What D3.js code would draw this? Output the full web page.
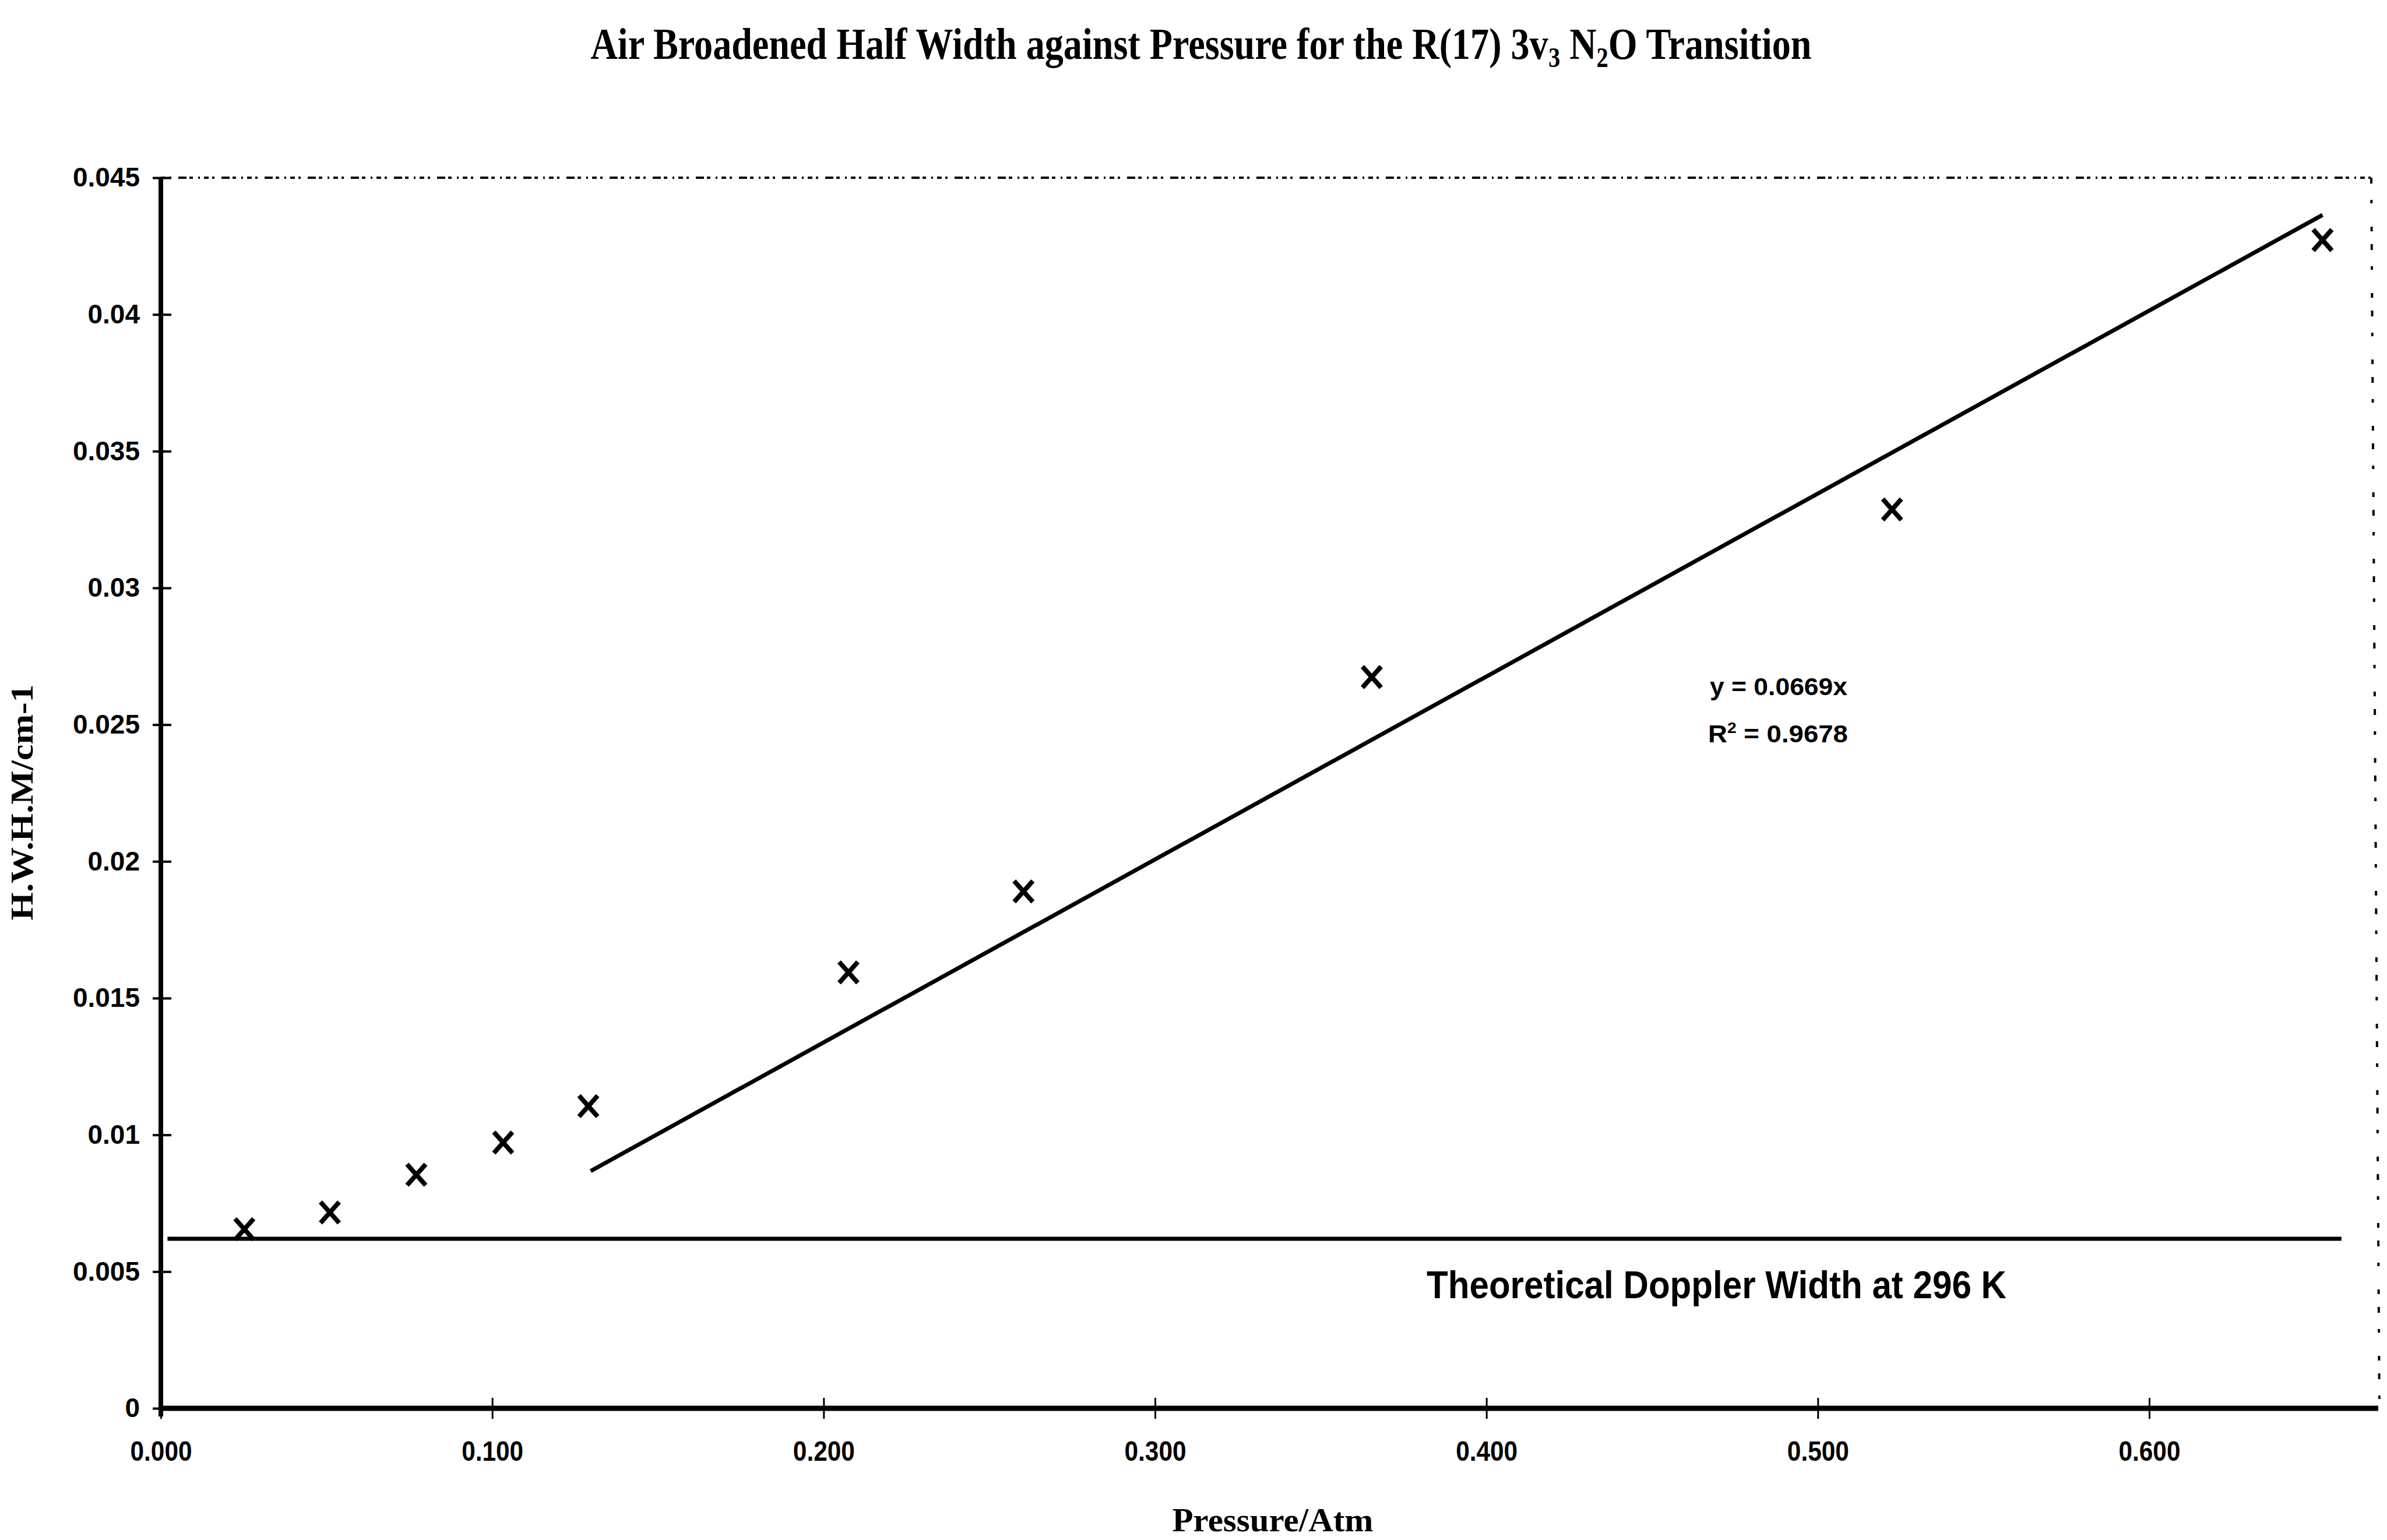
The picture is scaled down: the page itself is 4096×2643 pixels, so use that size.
<!DOCTYPE html>
<html>
<head>
<meta charset="utf-8">
<script src="https://cdn.jsdelivr.net/npm/d3@7"></script>
<style>
  html, body { margin: 0; padding: 0; background: #ffffff; overflow: hidden; }
  svg { display: block; }
  text { white-space: pre; }
</style>
</head>
<body>
<svg id="chart" width="4096" height="2643"></svg>
<script>
// Measured half widths of the R(17) line at each air pressure
const pressure = [0.0252, 0.0510, 0.0771, 0.1033, 0.1290, 0.2075, 0.2603, 0.3654, 0.5224, 0.6523];
const hwhm     = [0.00655, 0.00716, 0.00854, 0.00972, 0.01105, 0.01594, 0.0189, 0.02674, 0.03287, 0.04272];

// Linear fit through the origin over the higher-pressure points
const fitSlope = 0.0669;
const fitRange = [0.1297, 0.6523];
const fitEquation = "y = 0.0669x";
const fitR2 = ["R", "2", " = 0.9678"];

// Theoretical Doppler HWHM at 296 K
const dopplerWidth = 0.0062;
const dopplerRange = [0.002, 0.658];
const dopplerLabel = "Theoretical Doppler Width at 296 K";

// Axis ticks
const xTicks = [0, 0.1, 0.2, 0.3, 0.4, 0.5, 0.6];
const xTickLabels = ["0.000", "0.100", "0.200", "0.300", "0.400", "0.500", "0.600"];
const yTicks = [0, 0.005, 0.01, 0.015, 0.02, 0.025, 0.03, 0.035, 0.04, 0.045];
const yTickLabels = ["0", "0.005", "0.01", "0.015", "0.02", "0.025", "0.03", "0.035", "0.04", "0.045"];

// Titles (pieces flagged true are subscripts)
const titlePieces = [
  ["Air Broadened Half Width against Pressure for the R(17) 3v", false],
  ["3", true],
  [" N", false],
  ["2", true],
  ["O Transition", false]
];
const xTitle = "Pressure/Atm";
const yTitle = "H.W.H.M/cm-1";

// ---- layout ----
const svg = d3.select("#chart");
const plot = { left: 276, right: 4069, top: 305, bottom: 2417 };
const sansBold = "'Liberation Sans', Arial, sans-serif";
const serifBold = "'Liberation Serif', 'Times New Roman', serif";

const x = d3.scaleLinear().domain([0, 0.667]).range([plot.left, plot.right]);
const y = d3.scaleLinear().domain([0, 0.045]).range([plot.bottom, plot.top]);

svg.append("rect").attr("width", 4096).attr("height", 2643).attr("fill", "#fff");

// Lay out a run of text pieces (with optional sub/superscripts) side by side,
// then squeeze the group horizontally to a target width.
function textRun(cx, baseline, pieces, opts) {
  const g = svg.append("g");
  let cursor = 0;
  pieces.forEach(([str, kind]) => {
    const t = g.append("text")
      .attr("x", cursor)
      .attr("y", kind === "sub" ? opts.subShift : kind === "sup" ? -opts.supShift : 0)
      .attr("font-family", opts.family).attr("font-weight", "bold")
      .attr("font-size", kind ? opts.smallSize : opts.size)
      .attr("fill", "#000")
      .text(str);
    cursor += t.node().getComputedTextLength();
  });
  const sx = opts.width / cursor;
  const x0 = opts.anchor === "middle" ? cx - opts.width / 2 : cx;
  g.attr("transform", `translate(${x0},${baseline}) scale(${sx},1)`);
  return g;
}

// Chart title
textRun(2061, 101,
  titlePieces.map(([s, sub]) => [s, sub ? "sub" : null]),
  { family: serifBold, size: 76, smallSize: 48, subShift: 14, width: 2095, anchor: "middle" });

// Dotted frame on top and right
svg.append("line")
  .attr("x1", plot.left).attr("x2", plot.right)
  .attr("y1", plot.top).attr("y2", plot.top)
  .attr("stroke", "#000").attr("stroke-width", 4)
  .attr("stroke-dasharray", "8,6,4,12,14,5,6,9,3,7");
svg.append("line")
  .attr("x1", plot.right).attr("x2", plot.right + 14)
  .attr("y1", plot.top).attr("y2", plot.bottom)
  .attr("stroke", "#000").attr("stroke-width", 4)
  .attr("stroke-dasharray", "10,28,6,40,8,22");

// Y axis
const yAxis = svg.append("g")
  .attr("transform", `translate(${plot.left},0)`)
  .call(d3.axisLeft(y).tickValues(yTicks).tickFormat((d, i) => yTickLabels[i])
    .tickSize(0).tickPadding(36));
yAxis.select(".domain").attr("stroke", "#000").attr("stroke-width", 8)
  .attr("d", `M0,${plot.top}V${plot.bottom + 14}`);
yAxis.selectAll(".tick line").remove();
yAxis.selectAll(".tick").append("line")
  .attr("x1", -14).attr("x2", 18).attr("stroke", "#000").attr("stroke-width", 4);
yAxis.selectAll(".tick text")
  .attr("font-family", sansBold).attr("font-weight", "bold")
  .attr("font-size", 46).attr("fill", "#000");

// X axis
const xAxis = svg.append("g")
  .attr("transform", `translate(0,${plot.bottom})`)
  .call(d3.axisBottom(x).tickValues(xTicks).tickFormat((d, i) => xTickLabels[i])
    .tickSize(0));
xAxis.select(".domain").attr("stroke", "#000").attr("stroke-width", 9)
  .attr("d", `M${plot.left},0H${plot.right + 12}`);
xAxis.selectAll(".tick line").remove();
xAxis.selectAll(".tick").append("line")
  .attr("y1", -18).attr("y2", 18).attr("stroke", "#000").attr("stroke-width", 3);
xAxis.selectAll(".tick text")
  .attr("y", 90).attr("dy", null)
  .attr("font-family", sansBold).attr("font-weight", "bold")
  .attr("font-size", 48).attr("textLength", 106).attr("lengthAdjust", "spacingAndGlyphs")
  .attr("fill", "#000");

// Axis titles
svg.append("text")
  .attr("x", 2184).attr("y", 2628)
  .attr("text-anchor", "middle")
  .attr("font-family", serifBold).attr("font-weight", "bold")
  .attr("font-size", 56).attr("textLength", 345).attr("lengthAdjust", "spacingAndGlyphs")
  .text(xTitle);
svg.append("text")
  .attr("transform", "translate(56,1377) rotate(-90)")
  .attr("text-anchor", "middle")
  .attr("font-family", serifBold).attr("font-weight", "bold")
  .attr("font-size", 54).attr("textLength", 405).attr("lengthAdjust", "spacingAndGlyphs")
  .text(yTitle);

// Doppler width reference line
svg.append("line")
  .attr("x1", x(dopplerRange[0])).attr("x2", x(dopplerRange[1]))
  .attr("y1", y(dopplerWidth)).attr("y2", y(dopplerWidth))
  .attr("stroke", "#000").attr("stroke-width", 7);
svg.append("text")
  .attr("x", 2448).attr("y", 2228)
  .attr("font-family", sansBold).attr("font-weight", "bold")
  .attr("font-size", 66).attr("textLength", 995).attr("lengthAdjust", "spacingAndGlyphs")
  .text(dopplerLabel);

// Fit line
const fitLine = d3.line().x(d => x(d)).y(d => y(fitSlope * d));
svg.append("path")
  .attr("d", fitLine(fitRange))
  .attr("fill", "none").attr("stroke", "#000").attr("stroke-width", 7);

// Fit equation and R²
svg.append("text")
  .attr("x", 2934).attr("y", 1193)
  .attr("font-family", sansBold).attr("font-weight", "bold")
  .attr("font-size", 42).attr("textLength", 236).attr("lengthAdjust", "spacingAndGlyphs")
  .text(fitEquation);
textRun(2931, 1274,
  [[fitR2[0], null], [fitR2[1], "sup"], [fitR2[2], null]],
  { family: sansBold, size: 42, smallSize: 26, supShift: 16, width: 240, anchor: "start" });

// Data markers (x)
const points = pressure.map((p, i) => ({ p, w: hwhm[i] }));
svg.append("g").selectAll("path")
  .data(points).join("path")
  .attr("transform", d => `translate(${x(d.p)},${y(d.w)})`)
  .attr("d", "M-16,-18L16,18M-16,18L16,-18")
  .attr("fill", "none").attr("stroke", "#000").attr("stroke-width", 8);
</script>
</body>
</html>
